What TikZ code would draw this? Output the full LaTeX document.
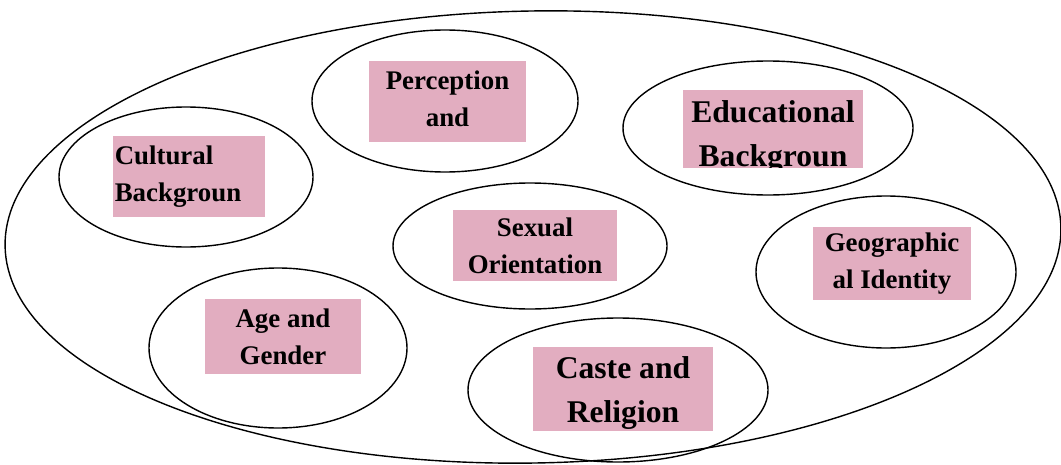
\documentclass[tikz,border=0pt]{standalone}
\usepackage{fontspec}
\setmainfont{Liberation Serif}
\usepackage{tikz}
\definecolor{tagpink}{RGB}{226,173,192}

\begin{document}
\begin{tikzpicture}[x=0.02cm,y=0.02cm,
  ring/.style={line width=0.8pt},
  tag/.style={fill=tagpink,inner sep=1pt,align=center,
    font=\bfseries\fontsize{15.3}{21}\selectfont},
  bigtag/.style={tag,font=\bfseries\fontsize{18}{25}\selectfont}]
  \useasboundingbox (0,0) rectangle (1061,464);
  % outer ring
  \draw[ring,rotate around={1:(533,227)}] (533,227) ellipse [x radius=528,y radius=226];
  % inner rings
  \draw[ring] (186,287) ellipse [x radius=127,y radius=70];
  \draw[ring] (445,363) ellipse [x radius=133,y radius=71];
  \draw[ring] (768,336) ellipse [x radius=145,y radius=67];
  \draw[ring] (530,218) ellipse [x radius=137,y radius=63];
  \draw[ring] (886,192) ellipse [x radius=130,y radius=76];
  \draw[ring] (278,116) ellipse [x radius=129,y radius=80];
  \draw[ring] (618,74) ellipse [x radius=150,y radius=72];
  % labels
  \node[tag,align=left,text width=2.97cm,minimum height=1.62cm] (cult) at (189,287.5) {Cultural\\Backgroun};
  \node[tag,minimum width=3.14cm,minimum height=1.62cm] (perc) at (447.5,362.5) {Perception\\and\vphantom{g}};
  \begin{scope}
    \clip (683,297) rectangle (863,374);
    \node[bigtag,minimum width=3.6cm,minimum height=1.9cm] (edu) at (773,327) {Educational\\Backgroun};
  \end{scope}
  \node[tag,minimum width=3.28cm,minimum height=1.42cm] (sex) at (535,218.5) {Sexual\\Orientation};
  \node[tag,minimum width=3.16cm,minimum height=1.46cm] (geo) at (892,200.5) {Geographic\\al Identity};
  \node[tag,minimum width=3.12cm,minimum height=1.5cm] (age) at (283,127.5) {Age and\\Gender};
  \node[bigtag,minimum width=3.6cm,minimum height=1.64cm] (caste) at (623,75) {\rule{0pt}{17pt}Caste and\\Religion};
\end{tikzpicture}
\end{document}
